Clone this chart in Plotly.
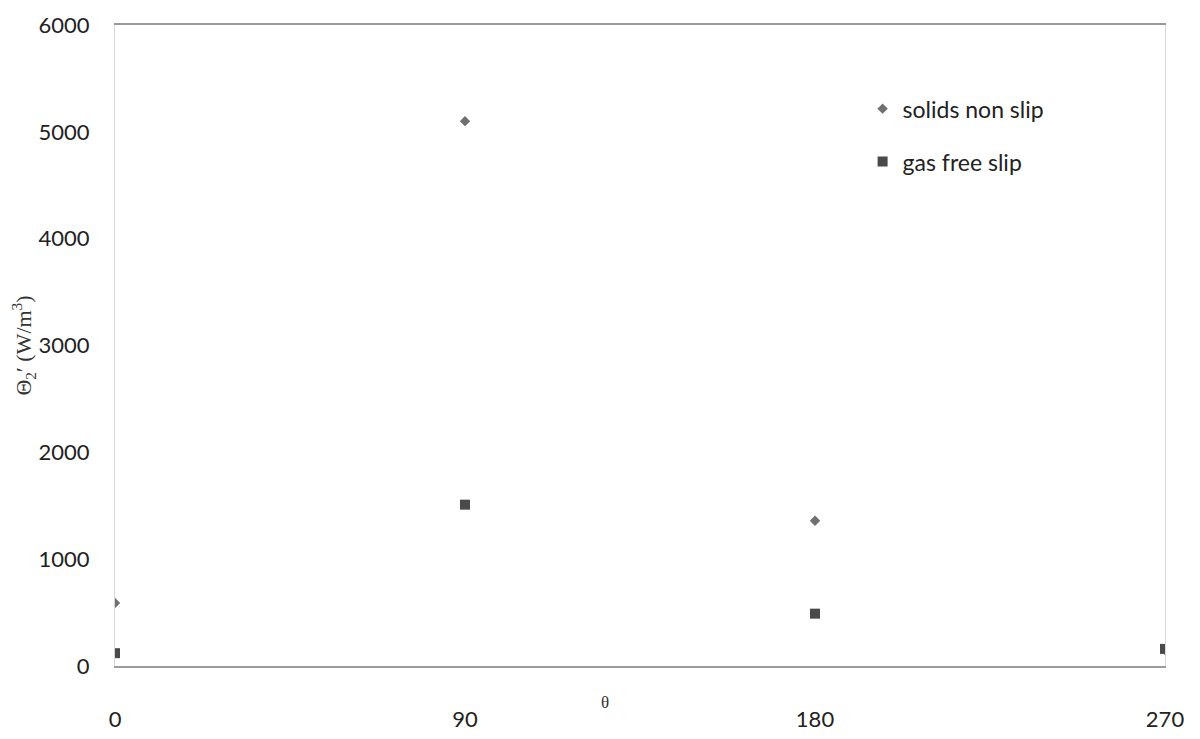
import plotly.graph_objects as go

theta = [0, 90, 180, 270]
solids_non_slip = [590, 5100, 1360, 150]
gas_free_slip = [120, 1510, 490, 160]
x_ticks = [0, 90, 180, 270]
y_ticks = [0, 1000, 2000, 3000, 4000, 5000, 6000]

fig = go.Figure()
fig.add_trace(go.Scatter(
    x=theta, y=solids_non_slip, mode="markers", name="solids non slip",
    legendgroup="a",
    marker=dict(symbol="diamond", size=8, color="#707070"),
))
fig.add_trace(go.Scatter(
    x=theta, y=gas_free_slip, mode="markers", name="gas free slip",
    legendgroup="b",
    marker=dict(symbol="square", size=10, color="#4a4a4a"),
))

fig.update_layout(
    width=1192, height=731,
    paper_bgcolor="white", plot_bgcolor="white",
    margin=dict(l=107, r=35, t=17, b=73),
    font=dict(family="Lato, Open Sans, sans-serif", size=22, color="#222"),
    showlegend=True,
    legend=dict(x=0.712, y=0.903, xanchor="left", yanchor="top",
                bgcolor="rgba(0,0,0,0)", tracegroupgap=20,
                font=dict(size=23, color="#222")),
    xaxis=dict(
        range=[0, 270], tickvals=x_ticks, ticktext=[str(v) for v in x_ticks],
        showgrid=False, zeroline=False, automargin=False,
        showline=True, linecolor="#9a9a9a", linewidth=2, mirror=True,
        ticks="outside", ticklen=33, tickcolor="rgba(0,0,0,0)",
    ),
    yaxis=dict(
        range=[0, 6000], tickvals=y_ticks,
        showgrid=False, zeroline=False, automargin=False,
        showline=True, linecolor="#d8d8d8", linewidth=1, mirror=True,
        ticks="outside", ticklen=20, tickcolor="rgba(0,0,0,0)",
        title=dict(text="Θ<sub>2</sub>′ (W/m<sup>3</sup>)",
                   font=dict(family="Liberation Serif, serif", size=22, color="#333"),
                   standoff=4),
    ),
    annotations=[dict(
        text="θ", x=0.467, y=-0.057, xref="paper", yref="paper",
        showarrow=False, xanchor="center", yanchor="middle",
        font=dict(family="Liberation Serif, serif", size=17, color="#333"),
    )],
)
fig.write_html("out.html")
